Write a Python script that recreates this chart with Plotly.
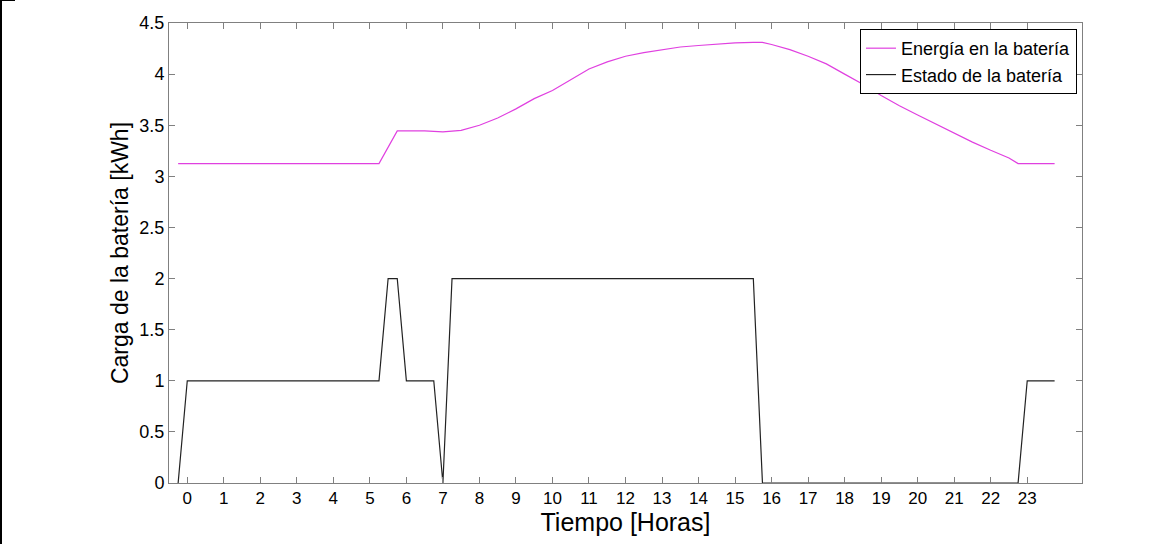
import plotly.graph_objects as go

# Battery state (Estado de la batería)
estado_x = [-0.25, 0, 5.25, 5.5, 5.75, 6.0, 6.75, 7.0, 7.25, 15.5, 15.75, 22.75, 23.0, 23.75]
estado_y = [0, 1, 1, 2, 2, 1, 1, 0, 2, 2, 0, 0, 1, 1]

# Battery energy (Energía en la batería)
energia_x = [-0.25, 5.25, 5.75, 6.5, 7.0, 7.5, 8.0, 8.5, 9.0, 9.5, 10.0, 10.5, 11.0, 11.5,
             12.0, 12.5, 13.0, 13.5, 14.0, 14.5, 15.0, 15.5, 15.75, 16.0, 16.5, 17.0, 17.5,
             18.0, 18.5, 19.0, 19.5, 20.0, 20.5, 21.0, 21.5, 22.0, 22.5, 22.75, 23.75]
energia_y = [3.125, 3.125, 3.445, 3.445, 3.435, 3.45, 3.50, 3.57, 3.66, 3.76, 3.84, 3.945,
             4.05, 4.12, 4.175, 4.21, 4.24, 4.265, 4.28, 4.295, 4.305, 4.31, 4.31, 4.29,
             4.24, 4.175, 4.10, 4.00, 3.90, 3.79, 3.69, 3.60, 3.51, 3.42, 3.335, 3.255,
             3.18, 3.125, 3.125]

x_ticks = list(range(0, 24))
y_ticks = [0, 0.5, 1, 1.5, 2, 2.5, 3, 3.5, 4, 4.5]
y_tick_labels = ["0", "0.5", "1", "1.5", "2", "2.5", "3", "3.5", "4", "4.5"]

font_family = "Liberation Sans, Arial, sans-serif"

fig = go.Figure()
fig.add_trace(go.Scatter(x=energia_x, y=energia_y, mode="lines",
                         name="Energía en la batería",
                         line=dict(color="#e040e0", width=1.2)))
fig.add_trace(go.Scatter(x=estado_x, y=estado_y, mode="lines",
                         name="Estado de la batería",
                         line=dict(color="#222222", width=1.2)))

axis_color = "#808080"
fig.update_layout(
    width=1173, height=544,
    margin=dict(l=169, r=91, t=23, b=61),
    paper_bgcolor="white", plot_bgcolor="white",
    font=dict(family=font_family, size=17, color="black"),
    showlegend=True,
    legend=dict(x=0.9945, y=0.987, xanchor="right", yanchor="top",
                bgcolor="white", bordercolor="black", borderwidth=1,
                font=dict(size=18, family=font_family, color="black"),
                tracegroupgap=0, itemwidth=30),
    xaxis=dict(range=[-0.5, 24.5], tickvals=x_ticks, ticktext=[str(v) for v in x_ticks],
               ticks="inside", ticklen=6, tickcolor=axis_color, tickwidth=1,
               showline=True, linecolor=axis_color, linewidth=1, mirror="ticks",
               showgrid=False, zeroline=False, layer="above traces",
               tickfont=dict(size=17, color="black"),
               title=dict(text="Tiempo [Horas]", font=dict(size=25, color="black"), standoff=0)),
    yaxis=dict(range=[0, 4.5], tickvals=y_ticks, ticktext=y_tick_labels,
               ticks="inside", ticklen=6, tickcolor=axis_color, tickwidth=1,
               showline=True, linecolor=axis_color, linewidth=1, mirror="ticks",
               showgrid=False, zeroline=False, layer="above traces",
               tickfont=dict(size=18, color="black"),
               title=dict(text="Carga de la batería [kWh]", font=dict(size=23, color="black"), standoff=4)),
)

# Black frame fragment at the very left edge of the image
fig.add_shape(type="rect", xref="paper", yref="paper",
              x0=-169/913, x1=-167/913, y0=-61/460, y1=1 + 23/460,
              fillcolor="black", line=dict(width=0), layer="above")
fig.add_shape(type="rect", xref="paper", yref="paper",
              x0=-169/913, x1=-154/913, y0=1 + 22/460, y1=1 + 23/460,
              fillcolor="black", line=dict(width=0), layer="above")

fig.write_html("out.html")
